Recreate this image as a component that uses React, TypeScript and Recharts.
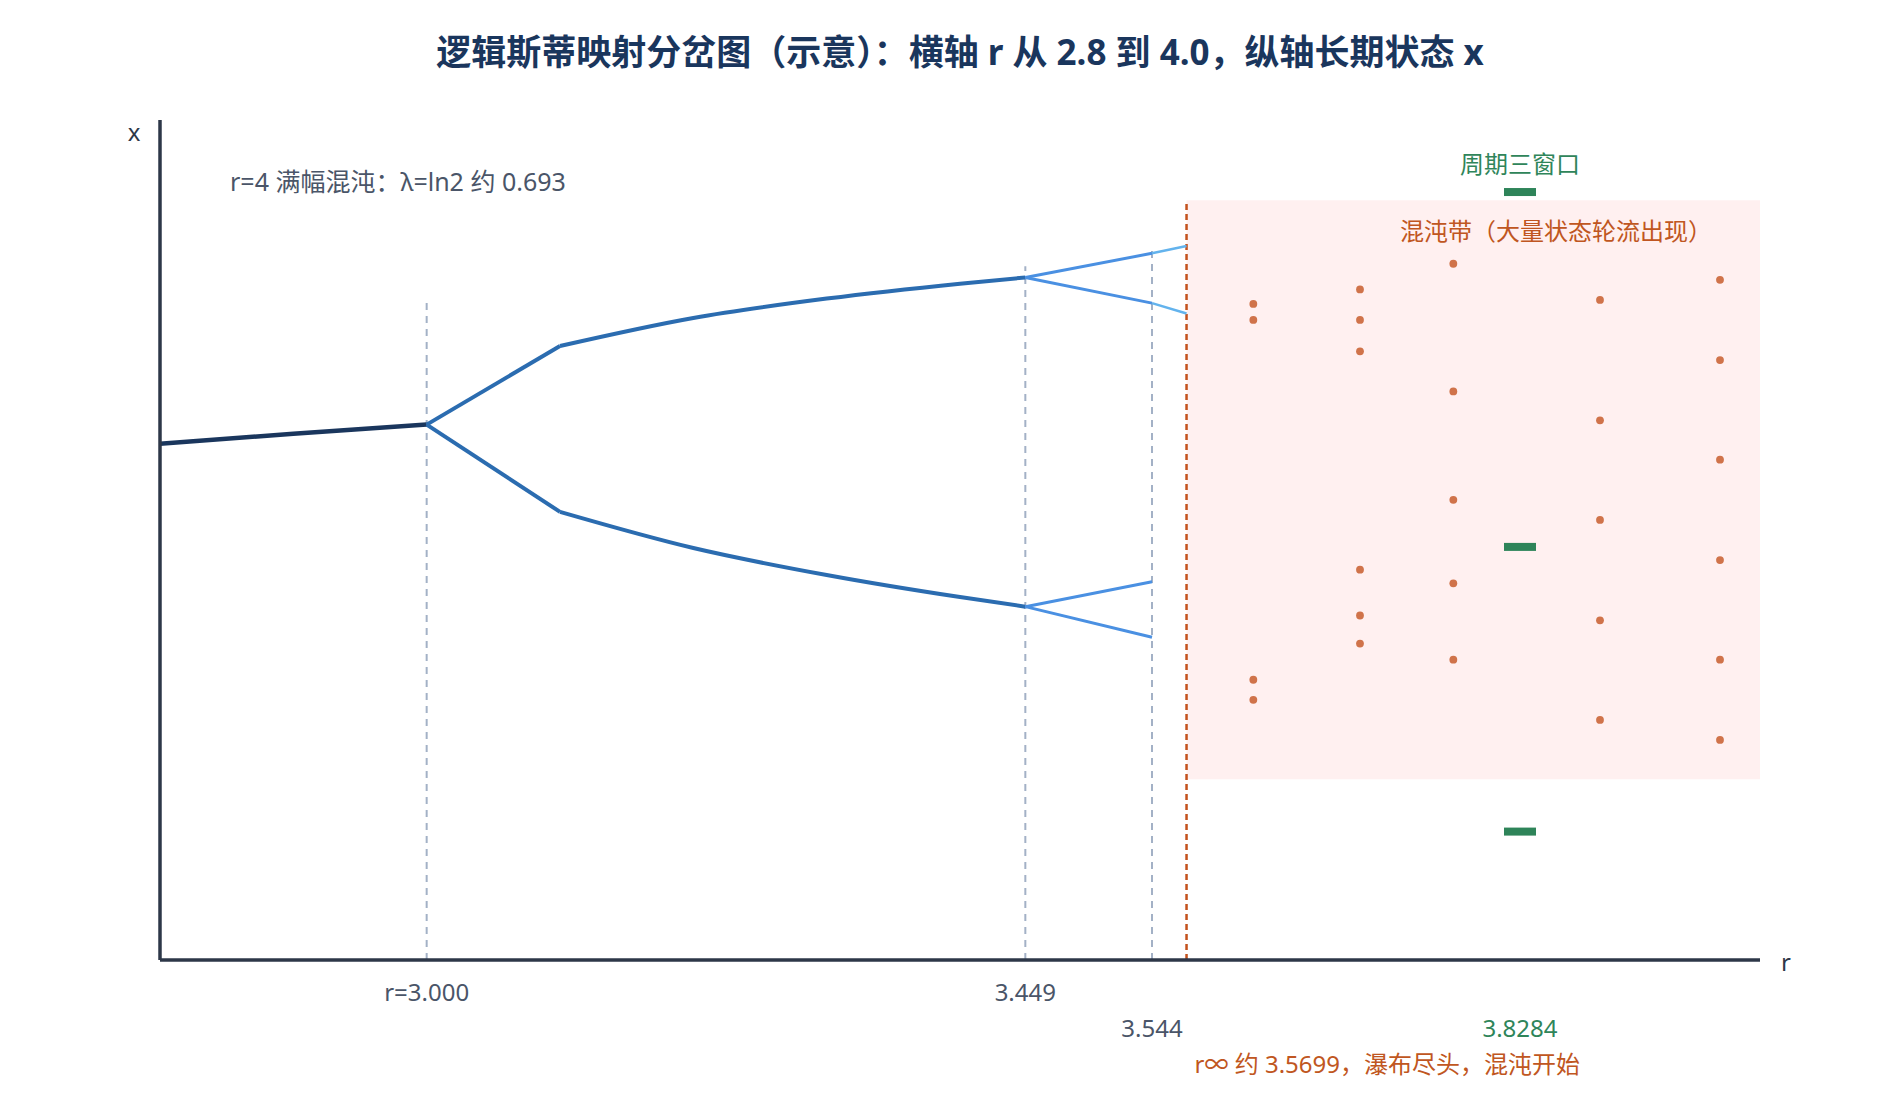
import React from 'react';
import {
  ComposedChart, Line, Scatter, XAxis, YAxis, ReferenceLine, ReferenceArea, ReferenceDot,
} from 'recharts';

const FONT = '"Noto Sans", "Noto Sans CJK SC", sans-serif';

// ---- data ----
const stableR = [2.8, 2.9, 3.0];
const stableX = [0.6429, 0.6552, 0.6667];

const period2StartR = [3.0, 3.1];
const period2StartUpper = [0.6667, 0.7646];
const period2StartLower = [0.6667, 0.558];

const period2R = [3.1, 3.2, 3.3, 3.4, 3.449];
const period2Upper = [0.7646, 0.7995, 0.8236, 0.8422, 0.8499];
const period2Lower = [0.558, 0.513, 0.4794, 0.4519, 0.44];

const period4R = [3.449, 3.544];
const period4Branches = [
  [0.8499, 0.88],
  [0.8499, 0.818],
  [0.44, 0.471],
  [0.44, 0.402],
];

const period8R = [3.544, 3.5699];
const period8Branches = [
  [0.88, 0.889],
  [0.818, 0.805],
];

const markerR = [3.0, 3.449, 3.544];
const markerTop = [0.82, 0.864, 0.887];

const rInf = 3.5699;
const chaosTop = 0.946;
const chaosBottom = 0.225;
const rMax = 4.0;

const chaosR = [3.62, 3.7, 3.77, 3.88, 3.97];
const chaosX = [
  [0.817, 0.797, 0.349, 0.324],
  [0.835, 0.797, 0.758, 0.486, 0.429, 0.394],
  [0.867, 0.708, 0.573, 0.469, 0.374],
  [0.822, 0.672, 0.548, 0.423, 0.299],
  [0.847, 0.747, 0.623, 0.498, 0.374, 0.274],
];

const window3R = 3.82;
const window3X = [0.9563, 0.5144, 0.1599];

const tickValues = [3.0, 3.449, 3.544, 3.5699, 3.82];
const tickLabels = ['r=3.000', '3.449', '3.544', 'r∞ 约 3.5699，瀑布尽头，混沌开始', '3.8284'];
const tickRows = [0, 0, 1, 2, 1];
const tickColors = ['#4a5568', '#4a5568', '#4a5568', '#c05621', '#2f855a'];

const TITLE = '逻辑斯蒂映射分岔图（示意）：横轴 r 从 2.8 到 4.0，纵轴长期状态 x';
const NOTE_R4 = 'r=4 满幅混沌：λ=ln2 约 0.693';
const WINDOW_LABEL = '周期三窗口';
const CHAOS_LABEL = '混沌带（大量状态轮流出现）';

// ---- derived tables ----
const toRows = (rs: number[], xs: number[]) => rs.map((r, i) => ({ r, x: xs[i] }));
const stableRows = toRows(stableR, stableX);
const p2StartUp = toRows(period2StartR, period2StartUpper);
const p2StartLo = toRows(period2StartR, period2StartLower);
const p2Up = toRows(period2R, period2Upper);
const p2Lo = toRows(period2R, period2Lower);
const p4Rows = period4Branches.map((b) => toRows(period4R, b));
const p8Rows = period8Branches.map((b) => toRows(period8R, b));
const chaosRows = chaosR.flatMap((r, i) => chaosX[i].map((x) => ({ r, x })));
const windowRows = window3X.map((x) => ({ r: window3R, x }));

const XTick = (props: any) => {
  const { x, y, payload } = props;
  const i = tickValues.indexOf(payload.value);
  if (i < 0) return null;
  const isInf = i === 3;
  return (
    <text
      x={isInf ? x + 8 : x}
      y={y + 23 + tickRows[i] * 36}
      textAnchor={isInf ? 'start' : 'middle'}
      dominantBaseline="central"
      fill={tickColors[i]}
      fontSize={24}
      fontFamily={FONT}
    >
      {tickLabels[i]}
    </text>
  );
};

const Dot = (props: any) => <circle cx={props.cx} cy={props.cy} r={3.9} fill="#d0734a" />;
const GreenBar = (props: any) => (
  <rect x={props.cx - 16} y={props.cy - 4} width={32} height={8} fill="#2e8459" />
);

export default function App() {
  return (
    <div style={{ position: 'absolute', left: 0, top: 0, width: 1880, height: 1120, background: '#fff', fontFamily: FONT }}>
      <ComposedChart
        width={1880}
        height={1120}
        margin={{ top: 120, right: 120, left: 100, bottom: 130 }}
      >
        <XAxis
          type="number"
          dataKey="r"
          domain={[2.8, rMax]}
          ticks={tickValues}
          interval={0}
          tick={<XTick />}
          tickLine={false}
          axisLine={{ stroke: '#2d3748', strokeWidth: 3.5 }}
          height={30}
          allowDataOverflow
        />
        <YAxis
          type="number"
          dataKey="x"
          domain={[0, 1.046]}
          tick={false}
          tickLine={false}
          axisLine={{ stroke: '#2d3748', strokeWidth: 3.5 }}
          width={60}
          allowDataOverflow
        />

        <ReferenceArea x1={rInf} x2={rMax} y1={chaosBottom} y2={chaosTop} fill="#fff0f0" fillOpacity={1} stroke="none" />

        {markerR.map((r, i) => (
          <ReferenceLine
            key={'m' + i}
            segment={[{ x: r, y: 0 }, { x: r, y: markerTop[i] }]}
            stroke="#a3b1c6"
            strokeWidth={2}
            strokeDasharray="7 6"
          />
        ))}
        <ReferenceLine
          segment={[{ x: rInf, y: 0 }, { x: rInf, y: chaosTop }]}
          stroke="#c4511c"
          strokeWidth={2.5}
          strokeDasharray="6 4"
        />

        <Line data={stableRows} dataKey="x" type="linear" stroke="#1a365d" strokeWidth={4.5} dot={false} isAnimationActive={false} />
        <Line data={p2StartUp} dataKey="x" type="linear" stroke="#2b6cb0" strokeWidth={4} dot={false} isAnimationActive={false} />
        <Line data={p2StartLo} dataKey="x" type="linear" stroke="#2b6cb0" strokeWidth={4} dot={false} isAnimationActive={false} />
        <Line data={p2Up} dataKey="x" type="monotoneX" stroke="#2b6cb0" strokeWidth={4} dot={false} isAnimationActive={false} />
        <Line data={p2Lo} dataKey="x" type="monotoneX" stroke="#2b6cb0" strokeWidth={4} dot={false} isAnimationActive={false} />
        {p4Rows.map((d, i) => (
          <Line key={'p4' + i} data={d} dataKey="x" type="linear" stroke="#4a90e2" strokeWidth={3} dot={false} isAnimationActive={false} />
        ))}
        {p8Rows.map((d, i) => (
          <Line key={'p8' + i} data={d} dataKey="x" type="linear" stroke="#63b3ed" strokeWidth={2.5} dot={false} isAnimationActive={false} />
        ))}

        <Scatter data={chaosRows} dataKey="x" shape={<Dot />} isAnimationActive={false} />
        <Scatter data={windowRows} dataKey="x" shape={<GreenBar />} isAnimationActive={false} />

        <ReferenceDot x={window3R} y={0.991} r={0} fill="none" stroke="none"
          label={{ value: WINDOW_LABEL, position: 'center', fill: '#2f855a', fontSize: 24, fontFamily: FONT }} />
        <ReferenceDot x={3.847} y={0.907} r={0} fill="none" stroke="none"
          label={{ value: CHAOS_LABEL, position: 'center', fill: '#c05621', fontSize: 24, fontFamily: FONT }} />

        <text x={960} y={51} textAnchor="middle" dominantBaseline="central" fontSize={35} fontWeight={700} fill="#1a365d" fontFamily={FONT}>
          {TITLE}
        </text>
        <text x={230} y={181} textAnchor="start" dominantBaseline="central" fontSize={25} fill="#4a5568" fontFamily={FONT}>
          {NOTE_R4}
        </text>
        <text x={134} y={131} textAnchor="middle" dominantBaseline="central" fontSize={24} fill="#2d3748" fontFamily={FONT}>
          x
        </text>
        <text x={1786} y={961} textAnchor="middle" dominantBaseline="central" fontSize={24} fill="#2d3748" fontFamily={FONT}>
          r
        </text>
      </ComposedChart>
    </div>
  );
}
